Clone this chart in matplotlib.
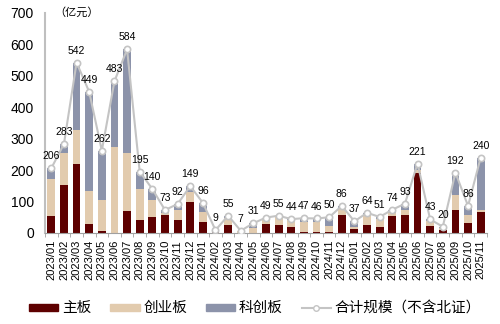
import numpy as np
import matplotlib.pyplot as plt
from matplotlib.lines import Line2D
from matplotlib.patches import Patch

plt.rcParams['font.family'] = ['Liberation Sans', 'Noto Sans CJK SC', 'DejaVu Sans']

# 月份
meses = ['2023/01', '2023/02', '2023/03', '2023/04', '2023/05', '2023/06', '2023/07',
         '2023/08', '2023/09', '2023/10', '2023/11', '2023/12', '2024/01', '2024/02',
         '2024/03', '2024/04', '2024/05', '2024/06', '2024/07', '2024/08', '2024/09',
         '2024/10', '2024/11', '2024/12', '2025/01', '2025/02', '2025/03', '2025/04',
         '2025/05', '2025/06', '2025/07', '2025/08', '2025/09', '2025/10', '2025/11']

# 各板块规模（亿元）
zhuban = [53, 151, 218, 29, 5, 0, 69, 40, 50, 56, 40, 98, 34, 2, 24, 0, 0, 28, 24, 18,
          4, 4, 4, 56, 13, 26, 19, 53, 56, 190, 21, 8, 74, 32, 66]
chuangye = [119, 105, 110, 103, 100, 272, 186, 100, 55, 8, 32, 31, 34, 5, 25, 5, 17, 21, 29, 24,
            30, 32, 17, 24, 5, 33, 25, 12, 18, 9, 16, 8, 46, 26, 8]
kechuang = [34, 27, 214, 317, 157, 211, 329, 55, 35, 9, 20, 20, 28, 2, 6, 2, 14, 0, 2, 2,
            13, 10, 29, 6, 19, 5, 7, 9, 19, 22, 6, 4, 72, 28, 166]
total = [206, 283, 542, 449, 262, 483, 584, 195, 140, 73, 92, 149, 96, 9, 55, 7, 31, 49, 55, 44,
         47, 46, 50, 86, 37, 64, 51, 74, 93, 221, 43, 20, 192, 86, 240]

c_zhu = '#5E0000'
c_chuang = '#E2CBAE'
c_ke = '#8C93AA'
c_line = '#C4C4C4'

x = np.arange(len(meses))
fig = plt.figure(figsize=(5, 3.24), dpi=100)
ax = fig.add_axes([0.09, 0.281, 0.884, 0.679])

w = 0.62
ax.bar(x, zhuban, w, color=c_zhu)
ax.bar(x, chuangye, w, bottom=zhuban, color=c_chuang)
ax.bar(x, kechuang, w, bottom=np.array(zhuban) + np.array(chuangye), color=c_ke)
ax.plot(x, total, color=c_line, lw=1.5, marker='o', ms=4.5,
        mfc='white', mec=c_line, mew=1.2, zorder=3)

for xi, t in zip(x, total):
    ax.annotate(str(t), (xi, t), xytext=(0, 5), textcoords='offset points',
                ha='center', va='bottom', fontsize=7.5)

ax.set_xlim(-0.5, len(meses) - 0.5)
ax.set_ylim(0, 700)
ax.set_yticks(range(0, 701, 100))
ax.tick_params(axis='y', length=0, labelsize=10, pad=8)
ax.set_xticks(x)
ax.set_xticklabels(meses, rotation=90, fontsize=8)
ax.set_xticks(np.arange(-0.5, len(meses), 1), minor=True)
ax.tick_params(axis='x', which='major', length=0, pad=5)
ax.tick_params(axis='x', which='minor', length=3, color='#A0A0A0')

for s in ['top', 'right']:
    ax.spines[s].set_visible(False)
ax.spines['left'].set_color('#BFBFBF')
ax.spines['left'].set_linewidth(1.5)
ax.spines['bottom'].set_color('#A0A0A0')

ax.text(0.02, 1.0, '（亿元）', transform=ax.transAxes, ha='left', va='center', fontsize=8)

handles = [Patch(color=c_zhu), Patch(color=c_chuang), Patch(color=c_ke),
           Line2D([], [], color=c_line, marker='o', ms=4, mfc='white', mec=c_line)]
labels = ['主板', '创业板', '科创板', '合计规模（不含北证）']
fig.legend(handles, labels, loc='center', bbox_to_anchor=(0.51, 0.048), ncol=4,
           frameon=False, fontsize=10.5, handlelength=2.0, handleheight=0.4,
           columnspacing=1.3, handletextpad=0.25)

fig.savefig('out.png', dpi=100)
